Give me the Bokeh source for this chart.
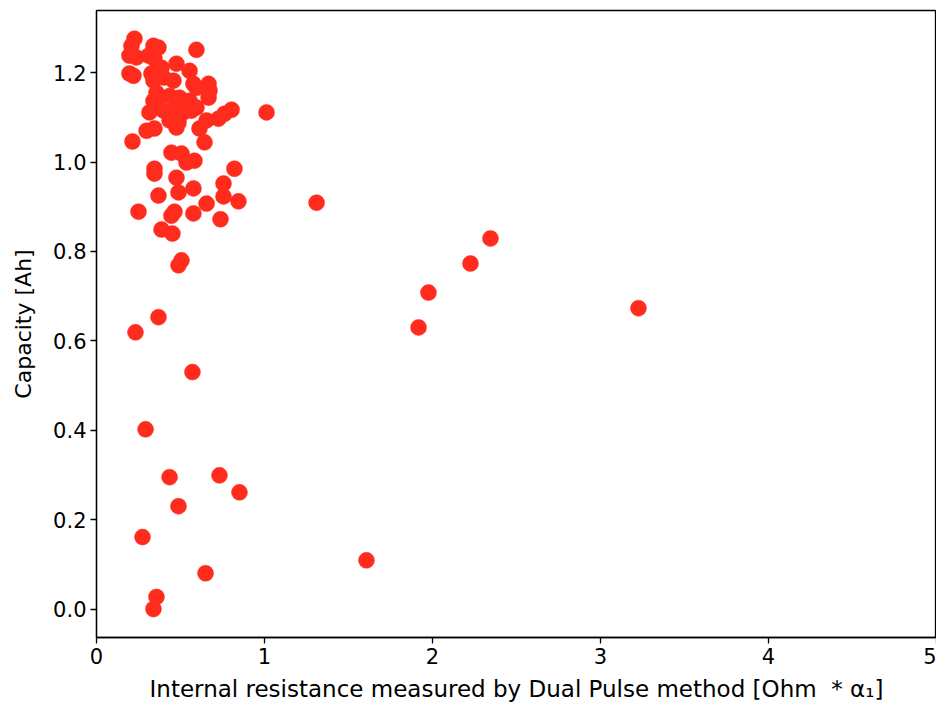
from bokeh.plotting import figure
from bokeh.models import Range1d, FixedTicker, ColumnDataSource
from bokeh.embed import file_html
from bokeh.resources import INLINE

resistance = [0.226, 0.208, 0.339, 0.369, 0.595, 0.196, 0.238, 0.310, 0.345, 0.196,
              0.220, 0.327, 0.387, 0.476, 0.554, 0.339, 0.399, 0.458, 0.577, 0.667,
              0.673, 0.667, 0.595, 0.357, 0.339, 0.357, 0.435, 0.494, 0.554, 0.595,
              0.315, 0.399, 0.458, 0.518, 0.565, 1.012, 0.804, 0.762, 0.726, 0.655,
              0.613, 0.476, 0.435, 0.488, 0.298, 0.345, 0.643, 0.214, 0.446, 0.506,
              0.536, 0.583, 0.345, 0.345, 0.821, 0.476, 0.756, 0.488, 0.577, 0.369,
              0.756, 0.845, 0.655, 1.310, 0.250, 0.446, 0.464, 0.577, 0.738, 0.387,
              0.452, 0.506, 0.488, 0.369, 0.232, 0.571, 0.292, 0.435, 0.732, 0.851,
              0.488, 0.274, 0.649, 0.357, 0.339, 1.607, 1.917, 1.976, 2.226, 2.345,
              3.226]
capacity = [1.276, 1.260, 1.260, 1.256, 1.251, 1.238, 1.234, 1.238, 1.231, 1.198,
            1.193, 1.198, 1.211, 1.220, 1.204, 1.182, 1.189, 1.182, 1.175, 1.175,
            1.160, 1.144, 1.166, 1.155, 1.137, 1.133, 1.148, 1.144, 1.137, 1.122,
            1.111, 1.115, 1.115, 1.111, 1.115, 1.111, 1.117, 1.108, 1.097, 1.093,
            1.075, 1.077, 1.093, 1.088, 1.070, 1.075, 1.044, 1.046, 1.021, 1.019,
            0.999, 1.003, 0.985, 0.974, 0.985, 0.965, 0.952, 0.932, 0.941, 0.925,
            0.923, 0.912, 0.907, 0.909, 0.889, 0.880, 0.889, 0.885, 0.872, 0.849,
            0.840, 0.780, 0.769, 0.653, 0.619, 0.530, 0.402, 0.295, 0.299, 0.261,
            0.230, 0.161, 0.080, 0.027, 0.000, 0.109, 0.630, 0.708, 0.773, 0.829,
            0.673]

x_ticks = [0, 1, 2, 3, 4, 5]
y_ticks = [0.0, 0.2, 0.4, 0.6, 0.8, 1.0, 1.2]

src = ColumnDataSource(dict(x=resistance, y=capacity))

p = figure(width=936, height=710, output_backend="svg", toolbar_location=None,
           x_range=Range1d(0, 5), y_range=Range1d(-0.0637, 1.339),
           min_border_left=96, min_border_right=0, min_border_top=10, min_border_bottom=73)

p.scatter("x", "y", source=src, size=16, fill_color="#FF2B1C", line_color="#FF2B1C",
          line_width=0.5)

p.xgrid.visible = False
p.ygrid.visible = False
p.outline_line_color = "black"
p.outline_line_width = 1.3
p.background_fill_color = "white"
p.border_fill_color = "white"

p.xaxis.ticker = FixedTicker(ticks=x_ticks)
p.yaxis.ticker = FixedTicker(ticks=y_ticks)
p.yaxis.major_label_overrides = {v: f"{v:.1f}" for v in y_ticks}

for ax in (p.xaxis[0], p.yaxis[0]):
    ax.major_label_text_font = "DejaVu Sans"
    ax.major_label_text_font_size = "21px"
    ax.major_label_text_color = "black"
    ax.axis_label_text_font = "DejaVu Sans"
    ax.axis_label_text_font_style = "normal"
    ax.axis_label_text_color = "black"
    ax.major_tick_out = 6
    ax.major_tick_in = 0
    ax.minor_tick_out = 0
    ax.minor_tick_in = 0
    ax.axis_line_color = "black"
    ax.axis_line_width = 1.3
    ax.major_tick_line_width = 1.3

p.xaxis.axis_label_text_font_size = "23px"
p.yaxis.axis_label_text_font_size = "22px"
p.xaxis.axis_label = "Internal resistance measured by Dual Pulse method [Ohm\u00a0 * α₁]"
p.yaxis.axis_label = "Capacity [Ah]"
p.xaxis.major_label_standoff = 4
p.yaxis.major_label_standoff = 4
p.xaxis.axis_label_standoff = 9
p.yaxis.axis_label_standoff = 14

open("out.html", "w").write(file_html(p, INLINE))
